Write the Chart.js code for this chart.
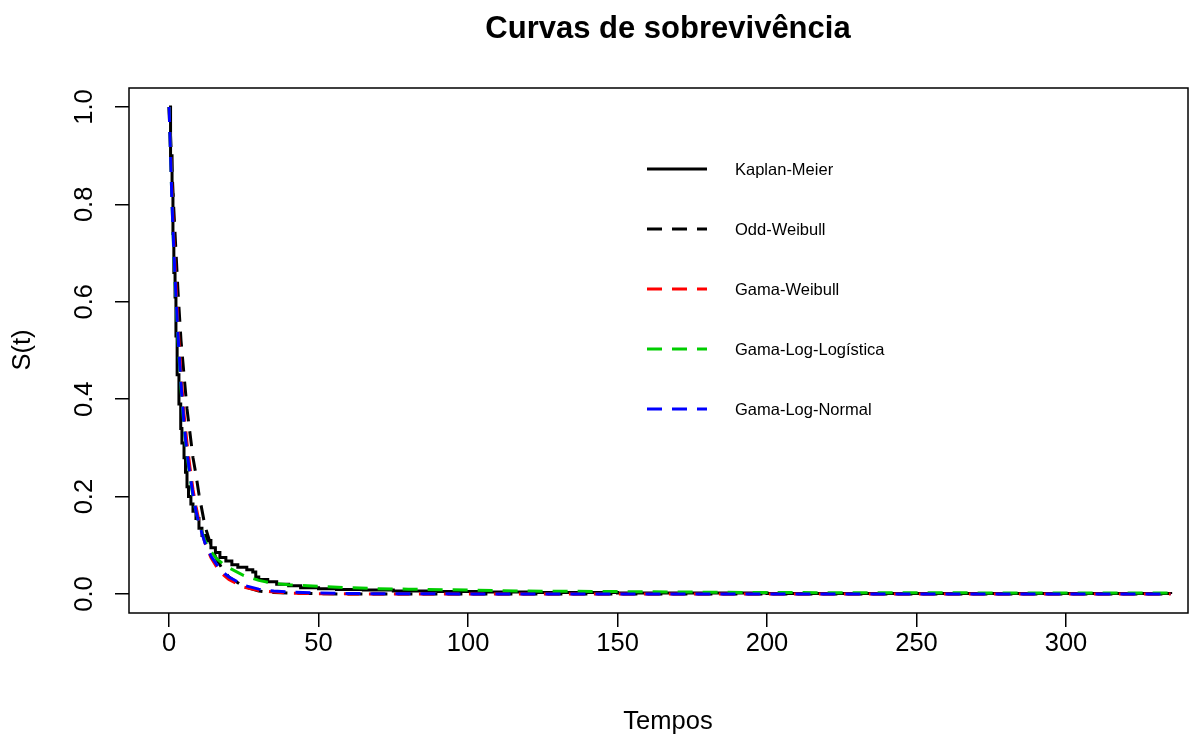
<!DOCTYPE html>
<html>
<head>
<meta charset="utf-8">
<title>Curvas de sobrevivência</title>
<script src="https://cdn.jsdelivr.net/npm/chart.js@4"></script>
<style>
  html, body { margin: 0; padding: 0; background: #fff; }
  #wrap { width: 1200px; height: 738px; }
</style>
</head>
<body>
<div id="wrap"><canvas id="surv" width="1200" height="738"></canvas></div>
<script>
// Kaplan-Meier estimate (step function): event times and survival after each drop
const kmTime = [0, 0.5, 1, 1.3, 1.6, 2, 2.3, 2.7, 3.3, 3.9, 4.3, 5, 5.5, 6, 6.5, 7.3, 8, 9, 10, 11,
                12.5, 14, 15.5, 17, 19, 21, 23, 26, 28, 29, 30, 33, 36, 40, 44, 50, 56, 65, 75, 90,
                105, 120, 150, 200, 335];
const kmSurv = [1, 0.9, 0.82, 0.74, 0.66, 0.61, 0.53, 0.45, 0.39, 0.34, 0.31, 0.28, 0.25, 0.22, 0.2, 0.185, 0.17, 0.155, 0.135, 0.12,
                0.11, 0.095, 0.085, 0.075, 0.068, 0.06, 0.055, 0.05, 0.045, 0.035, 0.03, 0.025, 0.02, 0.017, 0.013, 0.011, 0.009, 0.008, 0.006, 0.005,
                0.004, 0.003, 0.002, 0.001, 0];

// fitted models, evaluated on a common time grid
const tGrid = [0, 0.5, 1, 1.5, 2, 3, 4, 5, 6, 7, 8, 9, 10, 12, 14, 16, 18, 20, 25, 30, 35, 40, 50, 60, 70, 80, 100, 120, 150, 200, 250, 300, 335];
const oddWeibull = [1, 0.94, 0.87, 0.8, 0.74, 0.62, 0.52, 0.45, 0.38, 0.33, 0.28, 0.245, 0.205, 0.14, 0.1, 0.07, 0.05, 0.035, 0.015, 0.006, 0.003, 0.002, 0.0005, 0, 0, 0, 0, 0, 0, 0, 0, 0, 0];
const gamaWeibull = [1, 0.91, 0.82, 0.74, 0.67, 0.55, 0.45, 0.37, 0.31, 0.26, 0.215, 0.18, 0.15, 0.105, 0.075, 0.055, 0.04, 0.03, 0.014, 0.007, 0.004, 0.002, 0.0007, 0.0002, 0.0001, 0, 0, 0, 0, 0, 0, 0, 0];
const gamaLogLogistica = [1, 0.9, 0.8, 0.71, 0.64, 0.52, 0.42, 0.345, 0.285, 0.24, 0.2, 0.17, 0.145, 0.11, 0.087, 0.072, 0.062, 0.054, 0.038, 0.028, 0.022, 0.019, 0.016, 0.013, 0.011, 0.01, 0.008, 0.006, 0.005, 0.003, 0.0025, 0.002, 0.002];
const gamaLogNormal = [1, 0.9, 0.8, 0.72, 0.65, 0.53, 0.43, 0.35, 0.29, 0.245, 0.205, 0.17, 0.145, 0.105, 0.078, 0.06, 0.045, 0.035, 0.018, 0.01, 0.006, 0.004, 0.002, 0.001, 0.0007, 0.0005, 0.0002, 0.0001, 0, 0, 0, 0, 0];

const xTicks = [0, 50, 100, 150, 200, 250, 300];
const yTicks = [0, 0.2, 0.4, 0.6, 0.8, 1.0];

const FONT = '"Liberation Sans", Arial, Helvetica, sans-serif';
const DASH = [15, 10];

const pts = (xs, ys) => xs.map((x, i) => ({ x: x, y: ys[i] }));

function curve(label, color, xs, ys, dash, order) {
    return {
        label: label,
        data: pts(xs, ys),
        borderColor: color,
        backgroundColor: color,
        borderWidth: 3,
        borderDash: dash,
        pointRadius: 0,
        fill: false,
        tension: 0,
        order: order
    };
}

const km = curve('Kaplan-Meier', '#000000', kmTime, kmSurv, [], 4);
km.stepped = 'before';

const datasets = [
    km,
    curve('Odd-Weibull', '#000000', tGrid, oddWeibull, DASH, 3),
    curve('Gama-Weibull', '#ff0000', tGrid, gamaWeibull, DASH, 2),
    curve('Gama-Log-Logística', '#00cd00', tGrid, gamaLogLogistica, DASH, 1),
    curve('Gama-Log-Normal', '#0000ff', tGrid, gamaLogNormal, DASH, 0)
];

// box, titles and the legend, drawn the way base R graphics does
const rDecor = {
    id: 'rDecor',
    afterDraw(chart) {
        const c = chart.ctx;
        const a = chart.chartArea;
        c.save();
        c.strokeStyle = '#000';
        c.lineWidth = 1.5;
        c.strokeRect(a.left, a.top, a.right - a.left, a.bottom - a.top);

        c.fillStyle = '#000';
        c.textAlign = 'center';
        c.textBaseline = 'middle';
        c.font = 'bold 31px ' + FONT;
        c.fillText('Curvas de sobrevivência', 668, 29);

        c.font = '25.5px ' + FONT;
        c.fillText('Tempos', 668, 722);
        c.save();
        c.translate(23, 350);
        c.rotate(-Math.PI / 2);
        c.fillText('S(t)', 0, 0);
        c.restore();

        // legend
        c.font = '16.5px ' + FONT;
        c.textAlign = 'left';
        chart.data.datasets.forEach((ds, i) => {
            const y = 169 + i * 60;
            c.strokeStyle = ds.borderColor;
            c.lineWidth = 3;
            c.setLineDash(ds.borderDash);
            c.beginPath();
            c.moveTo(647, y);
            c.lineTo(707, y);
            c.stroke();
            c.setLineDash([]);
            c.fillStyle = '#000';
            c.fillText(ds.label, 735, y + 1);
        });
        c.restore();
    }
};

new Chart(document.getElementById('surv'), {
    type: 'line',
    data: { datasets: datasets },
    options: {
        responsive: false,
        animation: false,
        events: [],
        layout: { padding: { left: 0, right: 12, top: 88, bottom: 0 } },
        plugins: { legend: { display: false }, title: { display: false }, tooltip: { enabled: false } },
        scales: {
            x: {
                type: 'linear',
                min: -13.4,
                max: 340.8,
                afterBuildTicks: s => { s.ticks = xTicks.map(v => ({ value: v })); },
                afterFit: s => { s.height = 125; },
                border: { display: false },
                grid: { drawOnChartArea: false, drawTicks: true, tickLength: 14, color: '#000', lineWidth: 1.5 },
                ticks: {
                    color: '#000',
                    font: { family: FONT, size: 25.5 },
                    padding: 2,
                    maxRotation: 0,
                    callback: v => String(v)
                }
            },
            y: {
                type: 'linear',
                min: -0.039,
                max: 1.039,
                afterBuildTicks: s => { s.ticks = yTicks.map(v => ({ value: v })); },
                afterFit: s => { s.width = 129; },
                border: { display: false },
                grid: { drawOnChartArea: false, drawTicks: true, tickLength: 14, color: '#000', lineWidth: 1.5 },
                ticks: {
                    color: '#000',
                    font: { family: FONT, size: 25.5 },
                    padding: 12,
                    minRotation: 90,
                    maxRotation: 90,
                    crossAlign: 'center',
                    callback: v => v.toFixed(1)
                }
            }
        }
    },
    plugins: [rDecor]
});
</script>
</body>
</html>
